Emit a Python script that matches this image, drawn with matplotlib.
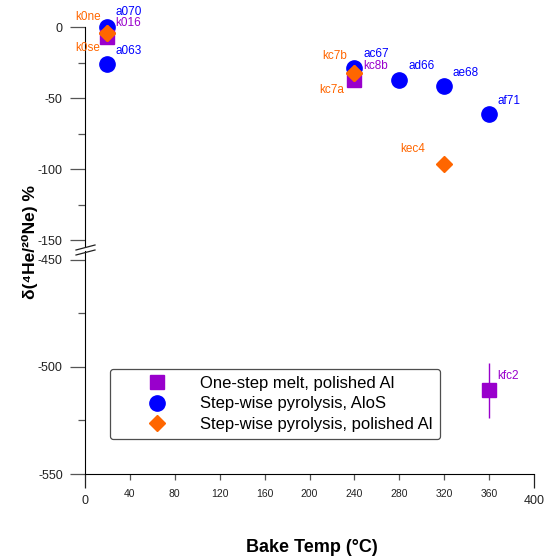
import matplotlib
matplotlib.use("Agg")
import matplotlib.pyplot as plt
from matplotlib.lines import Line2D

plt.rcParams['font.family'] = ['Liberation Sans', 'DejaVu Sans']
plt.rcParams['axes.unicode_minus'] = False

# data
melt_x = [20, 240, 360]
melt_y = [-7, -37, -511]
melt_lab = ['k016', 'kc8b', 'kfc2']
kfc2_err = 13

alos_x = [20, 20, 240, 280, 320, 360]
alos_y = [0, -26, -28.5, -37.5, -41.5, -61.5]
alos_lab = ['a070', 'a063', 'ac67', 'ad66', 'ae68', 'af71']

pol_x = [20, 20, 240, 240, 320]
pol_y = [-4, -4.5, -32, -32.5, -96]
pol_lab = ['k0ne', 'k0se', 'kc7b', 'kc7a', 'kec4']

xticks = [40, 80, 120, 160, 200, 240, 280, 320, 360]

purple = '#9900CC'
blue = '#0000FF'
orange = '#FF6600'

W, H = 545, 559
fig = plt.figure(figsize=(W / 100, H / 100), dpi=100)


def box(l, t, r, b):
    return [l / W, 1 - b / H, (r - l) / W, (b - t) / H]


ax1 = fig.add_axes(box(85, 27, 534, 246))
ax2 = fig.add_axes(box(85, 251, 534, 474))

ax1.set_ylim(-154, 0)
ax2.set_ylim(-550, -446)
for ax in (ax1, ax2):
    ax.set_xlim(0, 400)
    ax.spines['top'].set_visible(False)
    ax.spines['right'].set_visible(False)
    ax.tick_params(axis='y', which='major', length=11, width=0.9, color='#555555',
                   labelsize=9, pad=5, labelcolor='#222222')
    ax.tick_params(axis='y', which='minor', length=5, width=0.9, color='#555555')
    ax.patch.set_alpha(0)

ax1.spines['bottom'].set_visible(False)
ax1.set_xticks([])
ax1.set_yticks([0, -50, -100, -150])
ax1.set_yticks([-25, -75, -125], minor=True)
ax2.set_yticks([-450, -500, -550])
ax2.set_yticks([-475, -525], minor=True)

ax2.set_xticks(xticks)
ax2.tick_params(axis='x', which='major', length=4.5, width=0.9, color='#555555',
                labelsize=7.5, pad=6, labelcolor='#222222')
ax2.set_xticks([0, 400], minor=True)
ax2.set_xticklabels(['0', '400'], minor=True)
ax2.tick_params(axis='x', which='minor', length=10, width=0.9, color='#222222',
                labelsize=9, pad=5, labelcolor='#222222')

# upper panel markers
ax1.plot(alos_x, alos_y, 'o', color=blue, ms=11, zorder=3, clip_on=False)
ax1.plot(melt_x[:2], melt_y[:2], 's', color=purple, ms=10.5, zorder=4, clip_on=False)
ax1.plot(pol_x, pol_y, 'D', color=orange, ms=8.5, zorder=5, clip_on=False)

# lower panel
ax2.errorbar(melt_x[2], melt_y[2], yerr=kfc2_err, fmt='s', color=purple, ms=10.5,
             elinewidth=1, capsize=0, zorder=4)

# point labels (pixel offsets)
alos_off = [(8, 15), (8, 13), (9, 14), (9, 14), (8, 13), (8, 13)]
for x, y, t, o in zip(alos_x, alos_y, alos_lab, alos_off):
    ax1.annotate(t, (x, y), xytext=o, textcoords='offset pixels', color=blue,
                 fontsize=8.5, va='center', ha='left', annotation_clip=False)

melt_off = [(8, 14), (9, 14), (8, 14)]
for i, (x, y, t, o) in enumerate(zip(melt_x, melt_y, melt_lab, melt_off)):
    a = ax1 if i < 2 else ax2
    a.annotate(t, (x, y), xytext=o, textcoords='offset pixels', color=purple,
               fontsize=8.5, va='center', ha='left', annotation_clip=False)

pol_off = [(-7, 16), (-7, -15), (-7, 17), (-10, -17), (-19, 15)]
for x, y, t, o in zip(pol_x, pol_y, pol_lab, pol_off):
    ax1.annotate(t, (x, y), xytext=o, textcoords='offset pixels', color=orange,
                 fontsize=8.5, va='center', ha='right', annotation_clip=False)

# axis break marks
for y0 in (250, 255):
    fig.add_artist(Line2D([76 / W, 95 / W], [1 - y0 / H, 1 - (y0 - 5) / H],
                          color='#222222', lw=0.9))

# legend
handles = [
    Line2D([], [], marker='s', ls='none', color=purple, ms=10.5),
    Line2D([], [], marker='o', ls='none', color=blue, ms=11),
    Line2D([], [], marker='D', ls='none', color=orange, ms=8.5),
]
labels = ['One-step melt, polished Al', 'Step-wise pyrolysis, AloS',
          'Step-wise pyrolysis, polished Al']
leg = ax2.legend(handles, labels, loc='center left',
                 bbox_to_anchor=(25 / 449, (474 - 404) / 223), fontsize=12,
                 frameon=True, fancybox=True, edgecolor='#222222',
                 handlelength=4.7, handletextpad=0.25, labelspacing=0.32,
                 borderpad=0.45, borderaxespad=0)
leg.get_frame().set_linewidth(0.9)

fig.text(312 / W, 1 - 548 / H, 'Bake Temp (°C)', fontsize=13, fontweight='bold',
         ha='center', va='center')
fig.text(30 / W, 1 - 242 / H, 'δ(⁴He/²⁰Ne) %', fontsize=12.5, fontweight='bold',
         rotation=90, ha='center', va='center')

fig.savefig('out.png', dpi=100)
